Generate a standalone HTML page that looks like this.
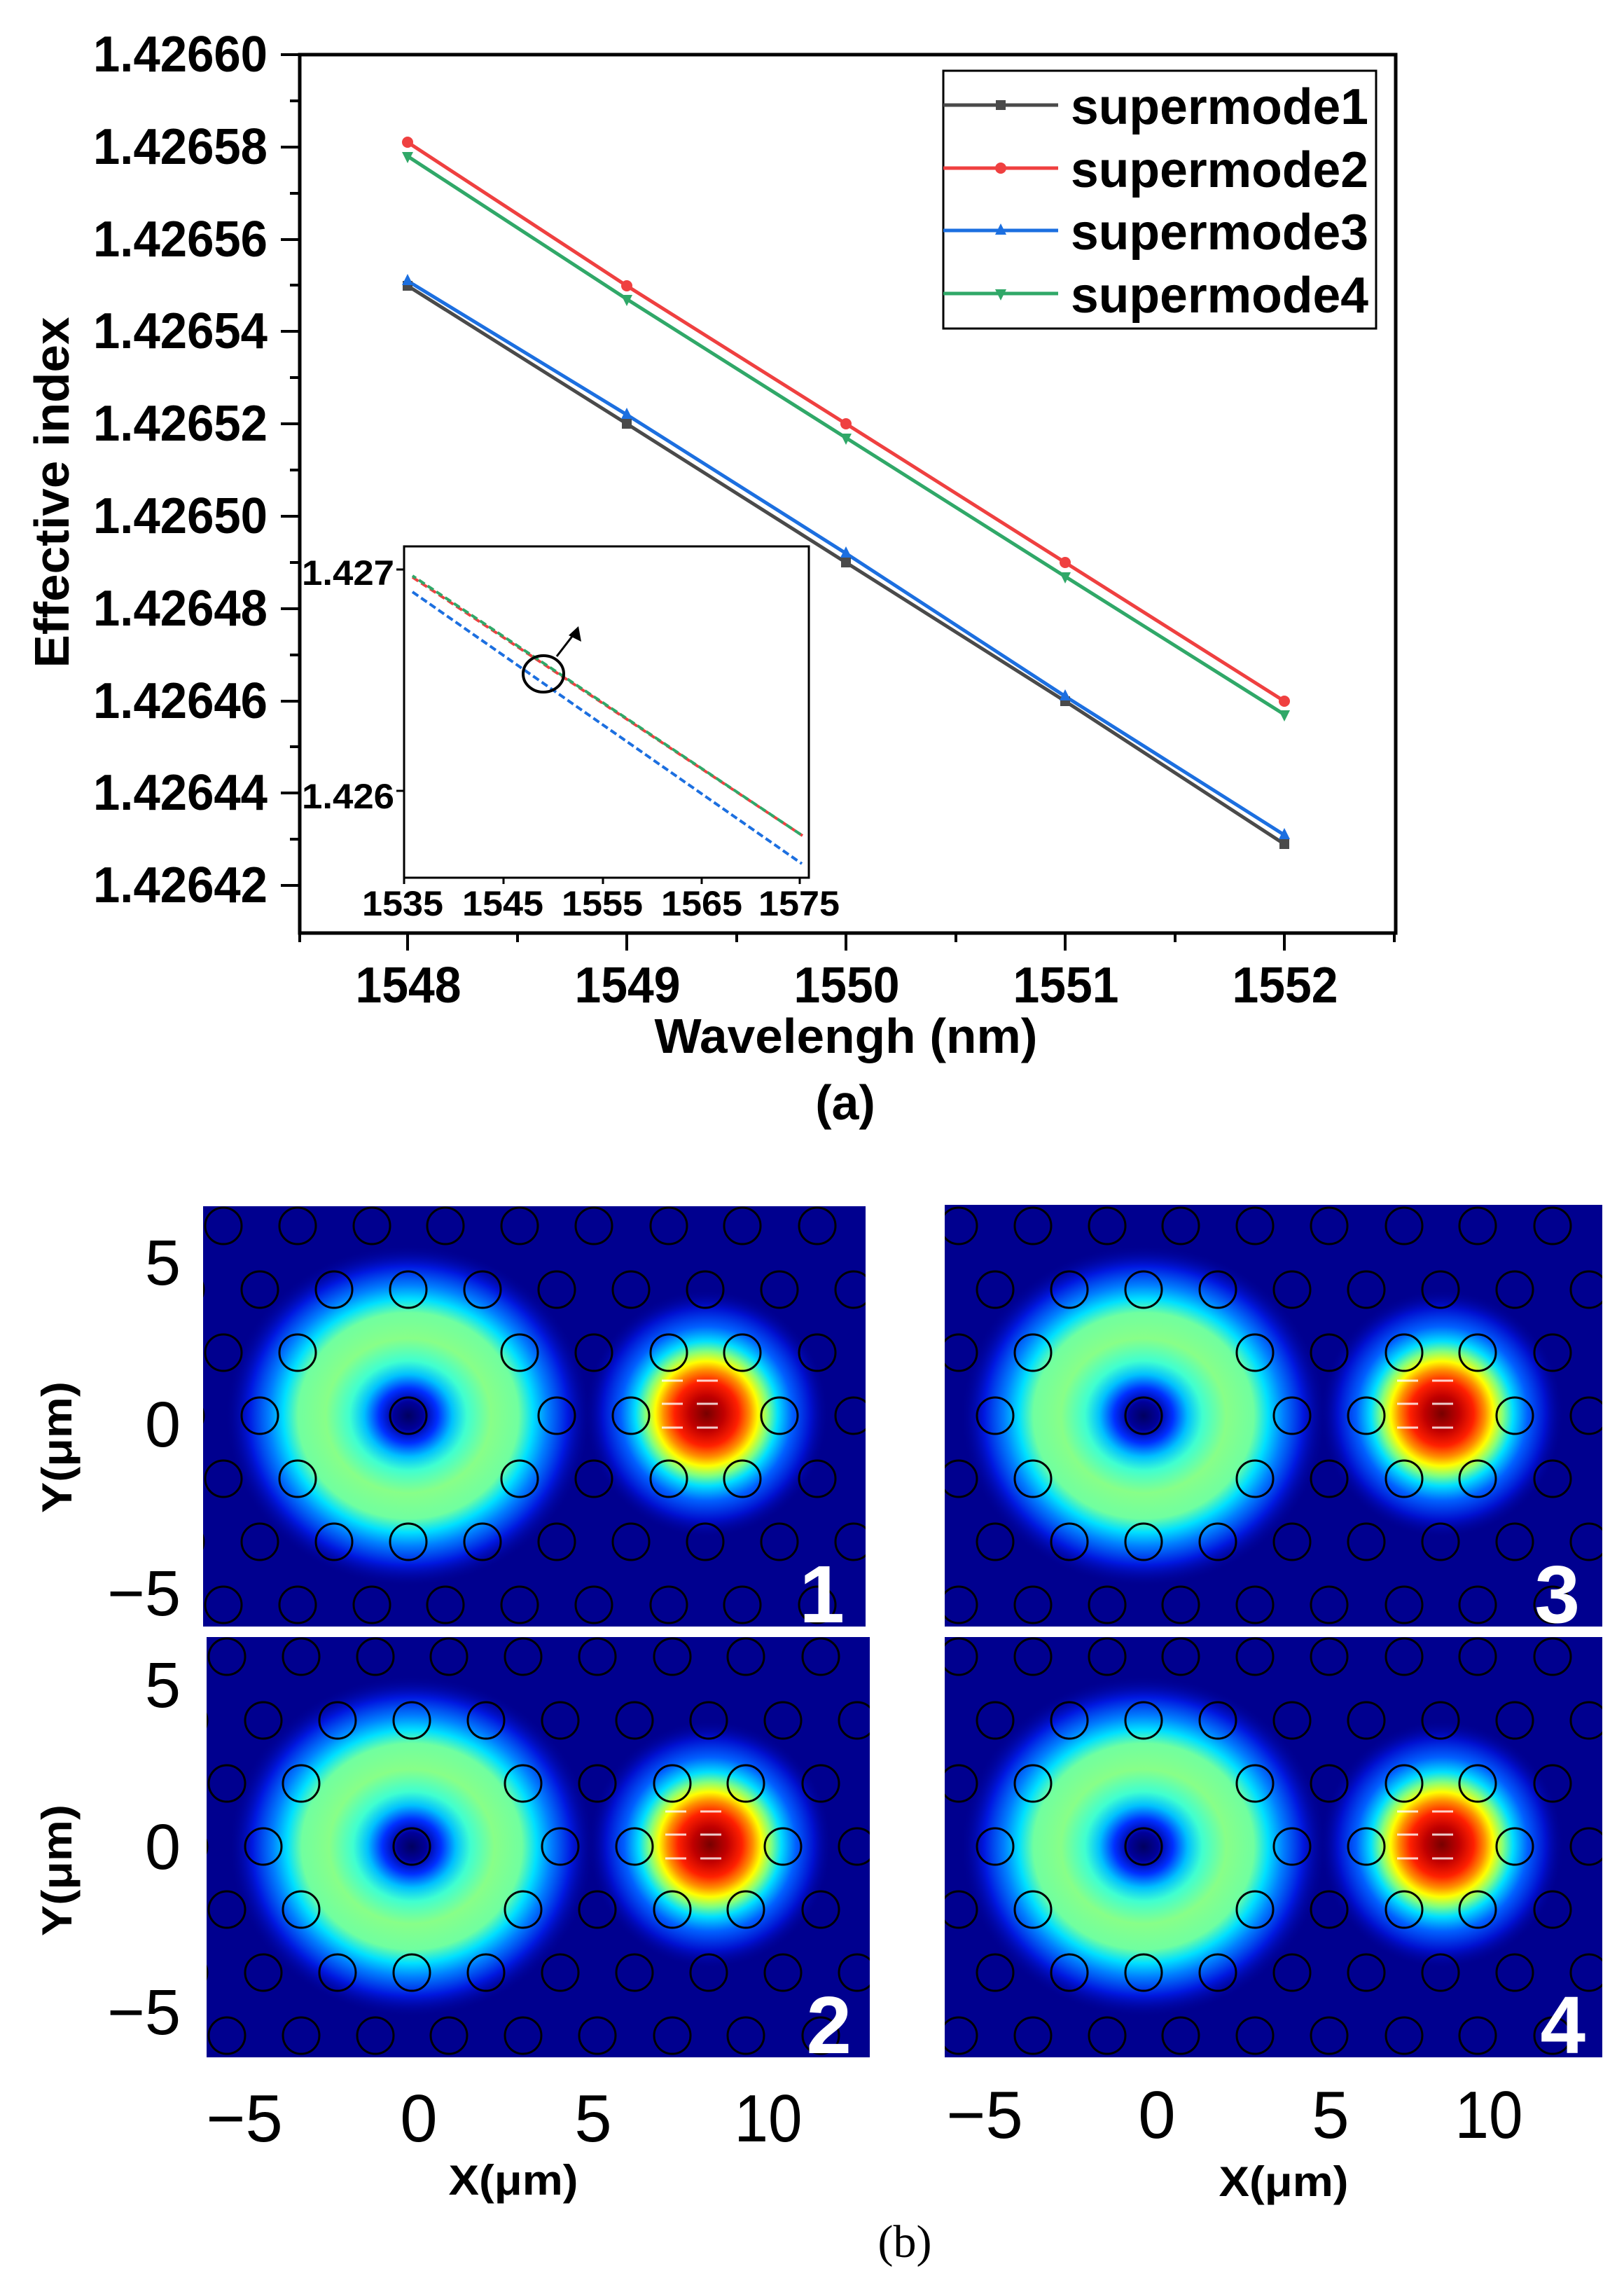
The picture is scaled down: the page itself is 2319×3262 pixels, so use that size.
<!DOCTYPE html>
<html><head><meta charset="utf-8"><style>html,body{margin:0;padding:0;background:#fff}svg{display:block}</style></head>
<body>
<svg xmlns="http://www.w3.org/2000/svg" xmlns:xlink="http://www.w3.org/1999/xlink" width="2319" height="3262" viewBox="0 0 2319 3262">
<defs>
  <radialGradient id="ring" cx="0.5" cy="0.5" r="0.5">
    <stop offset="0" stop-color="#000060"/>
    <stop offset="0.08" stop-color="#00009a"/>
    <stop offset="0.16" stop-color="#0030ff"/>
    <stop offset="0.24" stop-color="#00c0ff"/>
    <stop offset="0.32" stop-color="#40ffd0"/>
    <stop offset="0.45" stop-color="#88ff88"/>
    <stop offset="0.6" stop-color="#70ffa0"/>
    <stop offset="0.68" stop-color="#00e0ff"/>
    <stop offset="0.76" stop-color="#0080ff"/>
    <stop offset="0.87" stop-color="#0018e0"/>
    <stop offset="1" stop-color="#00008f" stop-opacity="0"/>
  </radialGradient>
  <radialGradient id="spot" cx="0.5" cy="0.5" r="0.5">
    <stop offset="0" stop-color="#780000"/>
    <stop offset="0.14" stop-color="#c00000"/>
    <stop offset="0.26" stop-color="#ff2000"/>
    <stop offset="0.35" stop-color="#ff9000"/>
    <stop offset="0.42" stop-color="#ffff00"/>
    <stop offset="0.5" stop-color="#80ff80"/>
    <stop offset="0.58" stop-color="#00e0ff"/>
    <stop offset="0.7" stop-color="#0060ff"/>
    <stop offset="0.85" stop-color="#0010d0"/>
    <stop offset="1" stop-color="#00008f" stop-opacity="0"/>
  </radialGradient>
  <clipPath id="c1"><rect x="290" y="1722" width="946" height="600"/></clipPath>
  <clipPath id="c2"><rect x="295" y="2337" width="947" height="600"/></clipPath>
  <clipPath id="c3"><rect x="1349" y="1720" width="939" height="602"/></clipPath>
  <clipPath id="c4"><rect x="1349" y="2337" width="939" height="600"/></clipPath>
  <g id="field">
    <rect x="100" y="1600" width="1400" height="900" fill="#00008f"/>
    <ellipse cx="583" cy="2021" rx="262" ry="245" fill="url(#ring)"/>
    <ellipse cx="1009" cy="2018" rx="175" ry="178" fill="url(#spot)"/>
    <g fill="none" stroke="#000" stroke-width="3">
      <g id="evenrow">
        <circle cx="319" cy="0" r="26"/><circle cx="425" cy="0" r="26"/><circle cx="531" cy="0" r="26"/>
        <circle cx="636" cy="0" r="26"/><circle cx="742" cy="0" r="26"/><circle cx="848" cy="0" r="26"/>
        <circle cx="955" cy="0" r="26"/><circle cx="1060" cy="0" r="26"/><circle cx="1167" cy="0" r="26"/>
      </g>
      <g id="oddrow">
        <circle cx="265" cy="0" r="26"/><circle cx="371" cy="0" r="26"/><circle cx="477" cy="0" r="26"/>
        <circle cx="583" cy="0" r="26"/><circle cx="689" cy="0" r="26"/><circle cx="795" cy="0" r="26"/>
        <circle cx="901" cy="0" r="26"/><circle cx="1007" cy="0" r="26"/><circle cx="1113" cy="0" r="26"/>
        <circle cx="1219" cy="0" r="26"/>
      </g>
      <use xlink:href="#evenrow" transform="translate(0,1750)"/>
      <use xlink:href="#oddrow" transform="translate(0,1841)"/>
      <circle cx="319" cy="1931" r="26"/><circle cx="425" cy="1931" r="26"/><circle cx="742" cy="1931" r="26"/>
      <circle cx="848" cy="1931" r="26"/><circle cx="955" cy="1931" r="26"/><circle cx="1060" cy="1931" r="26"/><circle cx="1167" cy="1931" r="26"/>
      <circle cx="265" cy="2021" r="26"/><circle cx="371" cy="2021" r="26"/><circle cx="583" cy="2021" r="26"/>
      <circle cx="795" cy="2021" r="26"/><circle cx="901" cy="2021" r="26"/><circle cx="1113" cy="2021" r="26"/><circle cx="1219" cy="2021" r="26"/>
      <circle cx="319" cy="2111" r="26"/><circle cx="425" cy="2111" r="26"/><circle cx="742" cy="2111" r="26"/>
      <circle cx="848" cy="2111" r="26"/><circle cx="955" cy="2111" r="26"/><circle cx="1060" cy="2111" r="26"/><circle cx="1167" cy="2111" r="26"/>
      <use xlink:href="#oddrow" transform="translate(0,2201)"/>
      <use xlink:href="#evenrow" transform="translate(0,2291)"/>
    </g>
    <g stroke="#fff" stroke-width="3" opacity="0.8">
      <line x1="945" y1="1971" x2="975" y2="1971"/><line x1="995" y1="1971" x2="1025" y2="1971"/>
      <line x1="945" y1="2004" x2="975" y2="2004"/><line x1="995" y1="2004" x2="1025" y2="2004"/>
      <line x1="945" y1="2038" x2="975" y2="2038"/><line x1="995" y1="2038" x2="1025" y2="2038"/>
    </g>
  </g>
</defs>

<g font-family="Liberation Sans, Arial, sans-serif" font-weight="bold" fill="#000">
  <g stroke="#000" stroke-width="5" fill="none">
    <rect x="428" y="78" width="1565" height="1254"/>
  </g>
  <g stroke="#000" stroke-width="4">
    <line x1="401" y1="78" x2="428" y2="78"/><line x1="401" y1="210" x2="428" y2="210"/>
    <line x1="401" y1="342" x2="428" y2="342"/><line x1="401" y1="473" x2="428" y2="473"/>
    <line x1="401" y1="605" x2="428" y2="605"/><line x1="401" y1="737" x2="428" y2="737"/>
    <line x1="401" y1="869" x2="428" y2="869"/><line x1="401" y1="1001" x2="428" y2="1001"/>
    <line x1="401" y1="1132" x2="428" y2="1132"/><line x1="401" y1="1264" x2="428" y2="1264"/>
    <line x1="414" y1="144" x2="428" y2="144"/><line x1="414" y1="276" x2="428" y2="276"/>
    <line x1="414" y1="407" x2="428" y2="407"/><line x1="414" y1="539" x2="428" y2="539"/>
    <line x1="414" y1="671" x2="428" y2="671"/><line x1="414" y1="803" x2="428" y2="803"/>
    <line x1="414" y1="935" x2="428" y2="935"/><line x1="414" y1="1066" x2="428" y2="1066"/>
    <line x1="414" y1="1198" x2="428" y2="1198"/>
    <line x1="582" y1="1332" x2="582" y2="1357"/><line x1="895" y1="1332" x2="895" y2="1357"/>
    <line x1="1208" y1="1332" x2="1208" y2="1357"/><line x1="1521" y1="1332" x2="1521" y2="1357"/>
    <line x1="1834" y1="1332" x2="1834" y2="1357"/>
    <line x1="428" y1="1332" x2="428" y2="1345"/><line x1="739" y1="1332" x2="739" y2="1345"/>
    <line x1="1052" y1="1332" x2="1052" y2="1345"/><line x1="1365" y1="1332" x2="1365" y2="1345"/>
    <line x1="1678" y1="1332" x2="1678" y2="1345"/><line x1="1991" y1="1332" x2="1991" y2="1345"/>
  </g>
  <g font-size="72" text-anchor="end">
    <text x="382" y="102" textLength="249" lengthAdjust="spacingAndGlyphs">1.42660</text>
    <text x="382" y="234" textLength="249" lengthAdjust="spacingAndGlyphs">1.42658</text>
    <text x="382" y="366" textLength="249" lengthAdjust="spacingAndGlyphs">1.42656</text>
    <text x="382" y="497" textLength="249" lengthAdjust="spacingAndGlyphs">1.42654</text>
    <text x="382" y="629" textLength="249" lengthAdjust="spacingAndGlyphs">1.42652</text>
    <text x="382" y="761" textLength="249" lengthAdjust="spacingAndGlyphs">1.42650</text>
    <text x="382" y="893" textLength="249" lengthAdjust="spacingAndGlyphs">1.42648</text>
    <text x="382" y="1025" textLength="249" lengthAdjust="spacingAndGlyphs">1.42646</text>
    <text x="382" y="1156" textLength="249" lengthAdjust="spacingAndGlyphs">1.42644</text>
    <text x="382" y="1288" textLength="249" lengthAdjust="spacingAndGlyphs">1.42642</text>
  </g>
  <g font-size="72" text-anchor="middle">
    <text x="583" y="1431" textLength="151" lengthAdjust="spacingAndGlyphs">1548</text>
    <text x="896" y="1431" textLength="151" lengthAdjust="spacingAndGlyphs">1549</text>
    <text x="1209" y="1431" textLength="151" lengthAdjust="spacingAndGlyphs">1550</text>
    <text x="1522" y="1431" textLength="151" lengthAdjust="spacingAndGlyphs">1551</text>
    <text x="1835" y="1431" textLength="151" lengthAdjust="spacingAndGlyphs">1552</text>
  </g>
  <text x="1208" y="1503" font-size="70" text-anchor="middle" textLength="547" lengthAdjust="spacingAndGlyphs">Wavelengh (nm)</text>
  <text x="1207" y="1598" font-size="70" text-anchor="middle">(a)</text>
  <text transform="translate(98,703) rotate(-90)" font-size="70" text-anchor="middle" textLength="501" lengthAdjust="spacingAndGlyphs">Effective index</text>

  <g fill="none" stroke-width="5">
    <polyline stroke="#4a4a4a" points="582,408 895,605 1208,803 1521,1001 1834,1205"/>
    <polyline stroke="#1c6fe0" points="582,401 895,592 1208,790 1521,994 1834,1192"/>
    <polyline stroke="#ef4040" points="582,203 895,408 1208,605 1521,803 1834,1001"/>
    <polyline stroke="#30a868" points="582,223 895,427 1208,625 1521,823 1834,1020"/>
  </g>
  <g fill="#4a4a4a">
    <rect x="575" y="401" width="14" height="14"/><rect x="888" y="598" width="14" height="14"/>
    <rect x="1201" y="796" width="14" height="14"/><rect x="1514" y="994" width="14" height="14"/><rect x="1827" y="1198" width="14" height="14"/>
  </g>
  <g fill="#1c6fe0">
    <polygon points="582,391 590,407 574,407"/><polygon points="895,582 903,598 887,598"/>
    <polygon points="1208,780 1216,796 1200,796"/><polygon points="1521,984 1529,1000 1513,1000"/><polygon points="1834,1182 1842,1198 1826,1198"/>
  </g>
  <g fill="#ef4040">
    <circle cx="582" cy="203" r="8"/><circle cx="895" cy="408" r="8"/><circle cx="1208" cy="605" r="8"/>
    <circle cx="1521" cy="803" r="8"/><circle cx="1834" cy="1001" r="8"/>
  </g>
  <g fill="#30a868">
    <polygon points="574,217 590,217 582,233"/><polygon points="887,421 903,421 895,437"/>
    <polygon points="1200,619 1216,619 1208,635"/><polygon points="1513,817 1529,817 1521,833"/><polygon points="1826,1014 1842,1014 1834,1030"/>
  </g>

  <rect x="1347" y="101" width="618" height="368" fill="#fff" stroke="#000" stroke-width="3"/>
  <g stroke-width="5">
    <line x1="1347" y1="150" x2="1511" y2="150" stroke="#4a4a4a"/>
    <line x1="1347" y1="240" x2="1511" y2="240" stroke="#ef4040"/>
    <line x1="1347" y1="329" x2="1511" y2="329" stroke="#1c6fe0"/>
    <line x1="1347" y1="419" x2="1511" y2="419" stroke="#30a868"/>
  </g>
  <rect x="1422" y="143" width="14" height="14" fill="#4a4a4a"/>
  <circle cx="1429" cy="240" r="8" fill="#ef4040"/>
  <polygon points="1429,319 1437,335 1421,335" fill="#1c6fe0"/>
  <polygon points="1421,413 1437,413 1429,429" fill="#30a868"/>
  <g font-size="72">
    <text x="1529" y="177" textLength="425" lengthAdjust="spacingAndGlyphs">supermode1</text>
    <text x="1529" y="267" textLength="425" lengthAdjust="spacingAndGlyphs">supermode2</text>
    <text x="1529" y="356" textLength="425" lengthAdjust="spacingAndGlyphs">supermode3</text>
    <text x="1529" y="446" textLength="425" lengthAdjust="spacingAndGlyphs">supermode4</text>
  </g>

  <rect x="577" y="780" width="578" height="473" fill="#fff" stroke="#000" stroke-width="3"/>
  <g stroke="#000" stroke-width="3">
    <line x1="566" y1="813" x2="577" y2="813"/><line x1="566" y1="1129" x2="577" y2="1129"/>
    <line x1="577" y1="1253" x2="577" y2="1262"/><line x1="719" y1="1253" x2="719" y2="1262"/>
    <line x1="861" y1="1253" x2="861" y2="1262"/><line x1="1002" y1="1253" x2="1002" y2="1262"/>
    <line x1="1142" y1="1253" x2="1142" y2="1262"/>
  </g>
  <g fill="none" stroke-width="4" stroke-dasharray="10,5">
    <line x1="589" y1="845" x2="1145" y2="1233" stroke="#1c6fe0"/>
    <line x1="589" y1="824" x2="1146" y2="1193" stroke="#ef4040"/>
    <line x1="589" y1="822" x2="1146" y2="1193" stroke="#30a868" stroke-dashoffset="4"/>
  </g>
  <ellipse cx="776" cy="962" rx="29" ry="26" fill="none" stroke="#000" stroke-width="4"/>
  <line x1="795" y1="937" x2="822" y2="902" stroke="#000" stroke-width="3"/>
  <polygon points="826,894 830,916 812,907" fill="#000"/>
  <g font-size="50">
    <text x="431" y="835" textLength="132" lengthAdjust="spacingAndGlyphs">1.427</text>
    <text x="431" y="1154" textLength="132" lengthAdjust="spacingAndGlyphs">1.426</text>
  </g>
  <g font-size="50" text-anchor="middle">
    <text x="575" y="1307" textLength="116" lengthAdjust="spacingAndGlyphs">1535</text>
    <text x="718" y="1307" textLength="116" lengthAdjust="spacingAndGlyphs">1545</text>
    <text x="860" y="1307" textLength="116" lengthAdjust="spacingAndGlyphs">1555</text>
    <text x="1002" y="1307" textLength="116" lengthAdjust="spacingAndGlyphs">1565</text>
    <text x="1141" y="1307" textLength="116" lengthAdjust="spacingAndGlyphs">1575</text>
  </g>
</g>

<g clip-path="url(#c1)"><use xlink:href="#field"/></g>
<g clip-path="url(#c2)"><use xlink:href="#field" transform="translate(5,615)"/></g>
<g clip-path="url(#c3)"><use xlink:href="#field" transform="translate(1050,0)"/></g>
<g clip-path="url(#c4)"><use xlink:href="#field" transform="translate(1050,615)"/></g>

<g font-family="Liberation Sans, Arial, sans-serif" font-weight="bold" fill="#fff" font-size="116" text-anchor="end">
  <text x="1206" y="2316">1</text>
  <text x="2256" y="2316">3</text>
  <text x="1216" y="2931">2</text>
  <text x="2264" y="2931">4</text>
</g>

<g font-family="Liberation Sans, Arial, sans-serif" fill="#000">
  <g font-size="92" text-anchor="end">
    <text x="258" y="1834">5</text>
    <text x="258" y="2065">0</text>
    <text x="258" y="2306">−5</text>
    <text x="258" y="2437">5</text>
    <text x="258" y="2668">0</text>
    <text x="258" y="2904">−5</text>
  </g>
  <g font-size="96" text-anchor="middle">
    <text x="349" y="3057">−5</text>
    <text x="598" y="3057">0</text>
    <text x="847" y="3057">5</text>
    <text x="1097" y="3057" textLength="97" lengthAdjust="spacingAndGlyphs">10</text>
    <text x="1406" y="3052">−5</text>
    <text x="1652" y="3052">0</text>
    <text x="1900" y="3052">5</text>
    <text x="2126" y="3052" textLength="97" lengthAdjust="spacingAndGlyphs">10</text>
  </g>
  <g font-weight="bold" font-size="60" text-anchor="middle">
    <text x="733" y="3133" textLength="185" lengthAdjust="spacingAndGlyphs">X(μm)</text>
    <text x="1833" y="3135" textLength="185" lengthAdjust="spacingAndGlyphs">X(μm)</text>
    <text transform="translate(102,2066) rotate(-90)" textLength="188" lengthAdjust="spacingAndGlyphs">Y(μm)</text>
    <text transform="translate(102,2670) rotate(-90)" textLength="188" lengthAdjust="spacingAndGlyphs">Y(μm)</text>
  </g>
  <text x="1292" y="3222" font-family="Liberation Serif, serif" font-size="66" text-anchor="middle">(b)</text>
</g>
</svg>
</body></html>
